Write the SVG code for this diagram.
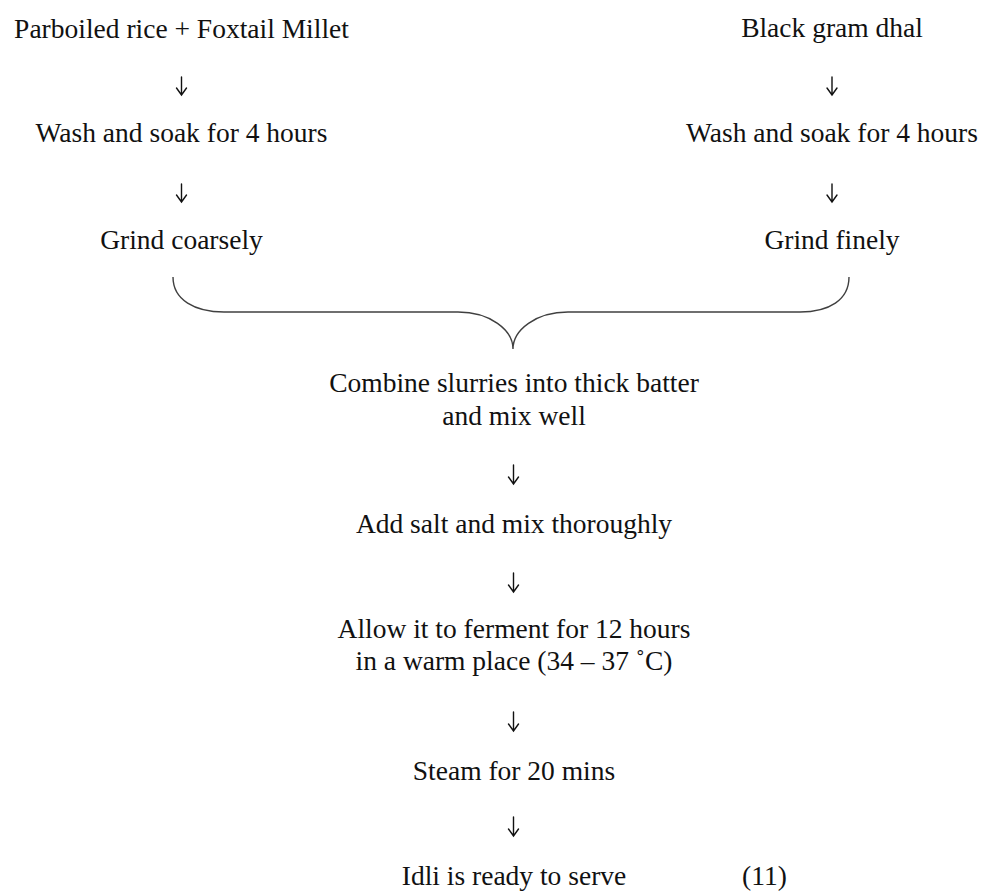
<svg xmlns="http://www.w3.org/2000/svg" width="983" height="894" viewBox="0 0 983 894">
<style>
  .t { font-family: "Liberation Serif", "Times New Roman", serif; font-size: 27.5px; fill: #111; text-anchor: middle; }
  .arr { fill: none; stroke: #111; stroke-width: 1.4; stroke-linecap: round; stroke-linejoin: miter; }
  .brace { fill: none; stroke: #404040; stroke-width: 1.4; }
</style>
<rect width="983" height="894" fill="#fff"/>
<g id="n-rice"><text class="t" x="181.5" y="37.5">Parboiled rice + Foxtail Millet</text></g>
<g id="n-blackgram"><text class="t" x="832" y="37">Black gram dhal</text></g>
<g id="n-wash-left"><text class="t" x="181.5" y="142">Wash and soak for 4 hours</text></g>
<g id="n-wash-right"><text class="t" x="832" y="142">Wash and soak for 4 hours</text></g>
<g id="n-grind-coarse"><text class="t" x="181.5" y="249">Grind coarsely</text></g>
<g id="n-grind-fine"><text class="t" x="832" y="249">Grind finely</text></g>
<g id="n-combine"><text class="t" x="514" y="392">Combine slurries into thick batter</text><text class="t" x="514" y="425">and mix well</text></g>
<g id="n-salt"><text class="t" x="514" y="533">Add salt and mix thoroughly</text></g>
<g id="n-ferment"><text class="t" x="514" y="638">Allow it to ferment for 12 hours</text><text class="t" x="514" y="670">in a warm place (34 – 37 ˚C)</text></g>
<g id="n-steam"><text class="t" x="514" y="780">Steam for 20 mins</text></g>
<g id="n-idli"><text class="t" x="514" y="885">Idli is ready to serve</text></g>
<g id="n-number"><text class="t" x="764.5" y="885">(11)</text></g>
<g id="connectors">
  <path class="arr" d="M181.5,77 V95 M176.5,88 L181.5,95 L186.5,88"/>
  <path class="arr" d="M181.5,184 V202 M176.5,195 L181.5,202 L186.5,195"/>
  <path class="arr" d="M832,77 V95 M827,88 L832,95 L837,88"/>
  <path class="arr" d="M832,184 V202 M827,195 L832,202 L837,195"/>
  <path class="brace" d="M173,277 C173,300 195,312 224,312 L458,312 C490,312 513,330 513,349 C513,330 536,312 568,312 L800,312 C829,312 849,300 849,277"/>
  <path class="arr" d="M513.5,465 V484 M508.5,477 L513.5,484 L518.5,477"/>
  <path class="arr" d="M513.5,573 V592 M508.5,585 L513.5,592 L518.5,585"/>
  <path class="arr" d="M513.5,712 V731 M508.5,724 L513.5,731 L518.5,724"/>
  <path class="arr" d="M513.5,817 V836 M508.5,829 L513.5,836 L518.5,829"/>
</g>
</svg>
